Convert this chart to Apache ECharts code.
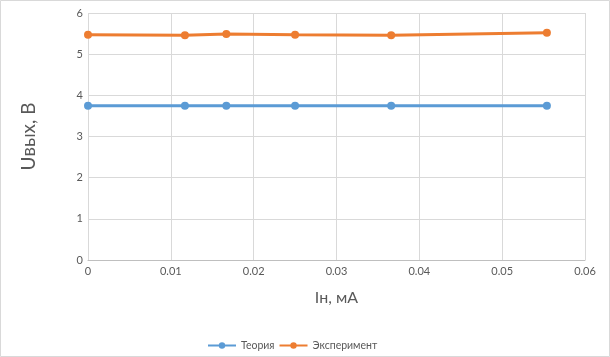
<!DOCTYPE html>
<html>
<head>
<meta charset="utf-8">
<script src="https://cdn.jsdelivr.net/npm/echarts@6/dist/echarts.min.js"></script>
<style>
html,body{margin:0;padding:0;background:#fff;}
#chart{width:610px;height:357px;}
</style>
</head>
<body>
<div id="chart"></div>
<script>
const currents = [0, 0.0117, 0.0167, 0.025, 0.0366, 0.0554];
const theory = [3.75, 3.75, 3.75, 3.75, 3.75, 3.75];
const experiment = [5.47, 5.46, 5.49, 5.47, 5.46, 5.52];
const seriesNames = ['Теория', 'Эксперимент'];
const xTitle = 'Iн, мА';
const yTitle = 'Uвых, В';

const pair = (xs, ys) => xs.map((x, i) => [x, ys[i]]);
const font = 'Lato, "Liberation Sans", sans-serif';
const chart = echarts.init(document.getElementById('chart'), null, {renderer: 'canvas'});
chart.setOption({
  animation: false,
  backgroundColor: '#fff',
  textStyle: {fontFamily: font},
  graphic: [{
    type: 'rect', shape: {x: 0.5, y: 0.5, width: 609, height: 356},
    style: {fill: 'none', stroke: '#d9d9d9', lineWidth: 1}, silent: true
  }],
  grid: {left: 88, right: 25, top: 13, bottom: 97, containLabel: false},
  xAxis: {
    type: 'value', min: 0, max: 0.06, interval: 0.01,
    name: xTitle, nameLocation: 'middle', nameGap: 30,
    nameTextStyle: {fontSize: 16, color: '#595959', fontFamily: font},
    axisLine: {show: true, lineStyle: {color: '#bfbfbf', width: 1}},
    axisTick: {show: false},
    axisLabel: {fontSize: 11, color: '#595959', margin: 6, fontFamily: font,
      formatter: v => String(Math.round(v * 100) / 100)},
    splitLine: {show: true, lineStyle: {color: '#d9d9d9', width: 1}}
  },
  yAxis: {
    type: 'value', min: 0, max: 6, interval: 1,
    name: yTitle, nameLocation: 'middle', nameGap: 50, nameRotate: 90,
    nameTextStyle: {fontSize: 19, color: '#595959', fontFamily: font},
    axisLine: {show: false},
    axisTick: {show: false},
    axisLabel: {fontSize: 11, color: '#595959', margin: 5, fontFamily: font},
    splitLine: {show: true, lineStyle: {color: '#d9d9d9', width: 1}}
  },
  legend: {
    bottom: 1, left: 202, itemWidth: 28, itemHeight: 8, itemGap: 4,
    textStyle: {fontSize: 10.5, color: '#595959', fontFamily: font},
    data: seriesNames
  },
  series: [
    {
      name: seriesNames[0], type: 'line', data: pair(currents, theory),
      symbol: 'circle', symbolSize: 8,
      lineStyle: {color: '#5b9bd5', width: 3},
      itemStyle: {color: '#5b9bd5'}
    },
    {
      name: seriesNames[1], type: 'line', data: pair(currents, experiment),
      symbol: 'circle', symbolSize: 8,
      lineStyle: {color: '#ed7d31', width: 3},
      itemStyle: {color: '#ed7d31'}
    }
  ]
});
</script>
</body>
</html>
